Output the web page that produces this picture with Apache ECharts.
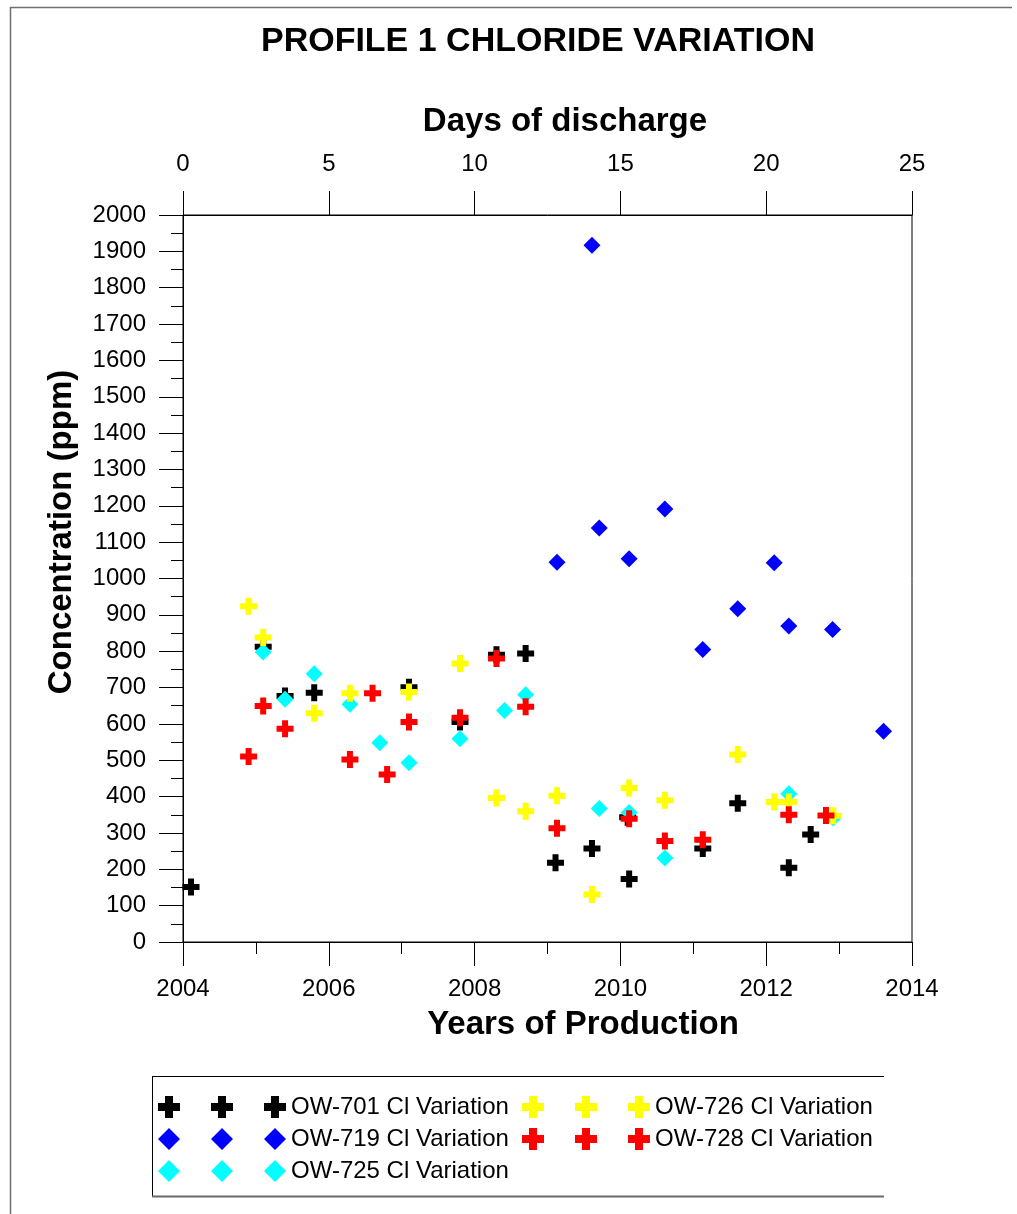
<!DOCTYPE html>
<html>
<head>
<meta charset="utf-8">
<script src="https://cdn.jsdelivr.net/npm/echarts@6/dist/echarts.min.js"></script>
<style>
  html, body { margin: 0; padding: 0; background: #fff; }
  #chart { width: 1017px; height: 1214px; }
</style>
</head>
<body>
<div id="chart"></div>
<script>
// values (x = year, y = Cl ppm)
const ow701Years = [2004.11, 2005.10, 2005.40, 2005.80, 2007.10, 2007.80, 2008.30, 2008.70, 2009.11, 2009.61, 2010.10, 2010.12, 2011.13, 2011.61, 2012.31, 2012.61]
const ow701Cl = [151, 812, 677, 686, 701, 605, 790, 794, 218, 257, 343, 173, 257, 382, 204, 296]

const ow719Years = [2009.13, 2009.61, 2009.71, 2010.12, 2010.61, 2011.13, 2011.61, 2012.11, 2012.31, 2012.91, 2013.61]
const ow719Cl = [1045, 1917, 1139, 1054, 1191, 805, 917, 1043, 869, 860, 580]

const ow725Years = [2005.10, 2005.40, 2005.80, 2006.29, 2006.70, 2007.10, 2007.80, 2008.41, 2008.70, 2009.71, 2010.12, 2010.61, 2012.31, 2012.92]
const ow725Cl = [798, 668, 738, 654, 548, 493, 559, 637, 680, 367, 356, 231, 408, 341]

const ow726Years = [2004.90, 2005.10, 2005.80, 2006.29, 2007.10, 2007.80, 2008.30, 2008.70, 2009.13, 2009.61, 2010.12, 2010.61, 2011.61, 2012.11, 2012.31, 2012.92]
const ow726Cl = [924, 838, 629, 684, 688, 766, 396, 360, 402, 131, 424, 390, 516, 385, 385, 347]

const ow728Years = [2004.90, 2005.10, 2005.40, 2006.29, 2006.60, 2006.80, 2007.10, 2007.80, 2008.30, 2008.70, 2009.13, 2010.12, 2010.61, 2011.13, 2012.31, 2012.82]
const ow728Cl = [510, 649, 587, 502, 684, 461, 605, 617, 780, 647, 313, 339, 278, 281, 350, 348]

const wellNames = ['OW-701 Cl Variation', 'OW-719 Cl Variation', 'OW-725 Cl Variation', 'OW-726 Cl Variation', 'OW-728 Cl Variation']
const wellColors = ['#000000', '#0000ff', '#00ffff', '#ffff00', '#ff0000']

const FONT = '"Liberation Sans", Arial, sans-serif'

const PLUS = 'path://M5.5,0H11.5V5.5H17V11.5H11.5V17H5.5V11.5H0V5.5H5.5Z'
// three marks in one legend icon, 128 x 22
const crossAt = (c) => `M${c - 4},0H${c + 4}V7H${c + 11}V15H${c + 4}V22H${c - 4}V15H${c - 11}V7H${c - 4}Z`
const diamondAt = (c) => `M${c},0L${c + 11},11L${c},22L${c - 11},11Z`
const PLUS3 = 'path://' + [11, 64, 117].map(crossAt).join('')
const DIAMOND3 = 'path://' + [11, 64, 117].map(diamondAt).join('')

const pairs = (xs, ys) => xs.map((x, i) => [x, ys[i]])

const wells = [
  { data: pairs(ow701Years, ow701Cl), symbol: PLUS, size: 17 },
  { data: pairs(ow719Years, ow719Cl), symbol: 'diamond', size: 17 },
  { data: pairs(ow725Years, ow725Cl), symbol: 'diamond', size: 17 },
  { data: pairs(ow726Years, ow726Cl), symbol: PLUS, size: 17 },
  { data: pairs(ow728Years, ow728Cl), symbol: PLUS, size: 17 }
]

const axisCommon = {
  axisLine: { show: true, lineStyle: { color: '#000', width: 1 } },
  axisTick: { show: true, inside: false, length: 24, lineStyle: { color: '#000', width: 1 } },
  splitLine: { show: false },
  axisLabel: { color: '#000', fontSize: 24, fontFamily: FONT, formatter: (v) => String(v) }
}

const legendCommon = {
  orient: 'vertical',
  padding: 0,
  itemWidth: 128,
  itemHeight: 22,
  itemGap: 8,
  selectedMode: false,
  textStyle: { color: '#000', fontSize: 24, fontFamily: FONT }
}

const chart = echarts.init(document.getElementById('chart'), null, { renderer: 'canvas' })

chart.setOption({
  animation: false,
  backgroundColor: '#fff',
  grid: { left: 183, right: 105, top: 215, bottom: 272, show: true, borderColor: '#000', borderWidth: 1, containLabel: false },
  xAxis: [
    {
      ...axisCommon,
      type: 'value',
      position: 'bottom',
      min: 2004,
      max: 2014,
      interval: 2,
      minorTick: { show: true, splitNumber: 2, length: 12, lineStyle: { color: '#000', width: 1 } },
      axisLabel: { ...axisCommon.axisLabel, margin: 35 }
    },
    {
      ...axisCommon,
      type: 'value',
      position: 'top',
      min: 0,
      max: 25,
      interval: 5,
      axisLabel: { ...axisCommon.axisLabel, margin: 39 }
    }
  ],
  yAxis: [
    {
      ...axisCommon,
      type: 'value',
      min: 0,
      max: 2000,
      interval: 100,
      minorTick: { show: true, splitNumber: 2, length: 12, lineStyle: { color: '#000', width: 1 } },
      axisLabel: { ...axisCommon.axisLabel, margin: 37 }
    }
  ],
  legend: [
    {
      ...legendCommon,
      left: 158,
      top: 1095,
      data: wellNames.slice(0, 3).map((name, i) => ({ name, icon: i === 0 ? PLUS3 : DIAMOND3 }))
    },
    {
      ...legendCommon,
      left: 522,
      top: 1095,
      data: wellNames.slice(3).map((name) => ({ name, icon: PLUS3 }))
    }
  ],
  series: wells.map((w, i) => ({
    name: wellNames[i],
    type: 'scatter',
    xAxisIndex: 0,
    yAxisIndex: 0,
    data: w.data,
    symbol: w.symbol,
    symbolSize: w.size,
    itemStyle: { color: wellColors[i], opacity: 1 },
    emphasis: { disabled: true },
    z: 2 + i
  })),
  graphic: [
    // outer frame (top + left only, as in the picture)
    { type: 'line', shape: { x1: 10, y1: 7.5, x2: 1012, y2: 7.5 }, style: { stroke: '#707070', lineWidth: 1.5 }, silent: true },
    { type: 'line', shape: { x1: 10.5, y1: 7, x2: 10.5, y2: 1214 }, style: { stroke: '#707070', lineWidth: 1.5 }, silent: true },
    // legend box
    { type: 'line', shape: { x1: 152, y1: 1076.5, x2: 884, y2: 1076.5 }, style: { stroke: '#000', lineWidth: 1 }, silent: true },
    { type: 'line', shape: { x1: 152.5, y1: 1076, x2: 152.5, y2: 1197 }, style: { stroke: '#000', lineWidth: 1 }, silent: true },
    { type: 'line', shape: { x1: 152, y1: 1196.5, x2: 884, y2: 1196.5 }, style: { stroke: '#6a6a6a', lineWidth: 2 }, silent: true },
    // titles
    {
      type: 'text', x: 538, y: 42, silent: true,
      style: { text: 'PROFILE 1 CHLORIDE VARIATION', font: `bold 34px ${FONT}`, fill: '#000', align: 'center', verticalAlign: 'middle' }
    },
    {
      type: 'text', x: 565, y: 122, silent: true,
      style: { text: 'Days of discharge', font: `bold 33px ${FONT}`, fill: '#000', align: 'center', verticalAlign: 'middle' }
    },
    {
      type: 'text', x: 583, y: 1025, silent: true,
      style: { text: 'Years of Production', font: `bold 33px ${FONT}`, fill: '#000', align: 'center', verticalAlign: 'middle' }
    },
    {
      type: 'text', x: 62, y: 532, rotation: Math.PI / 2, silent: true,
      style: { text: 'Concentration (ppm)', font: `bold 33px ${FONT}`, fill: '#000', align: 'center', verticalAlign: 'middle' }
    }
  ]
})
</script>
</body>
</html>
